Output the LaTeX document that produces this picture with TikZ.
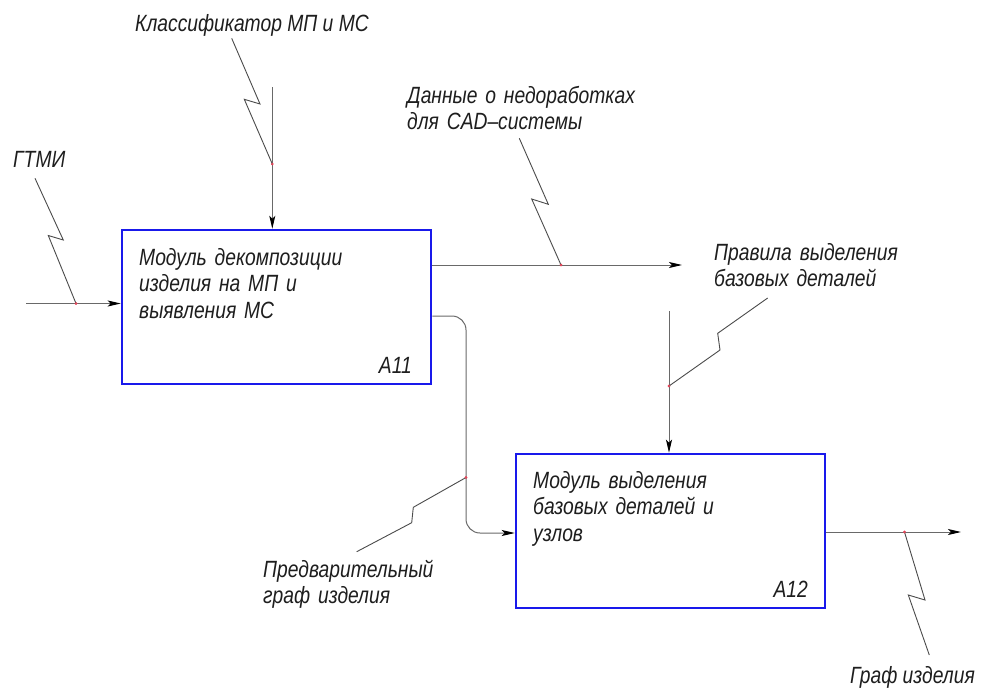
\documentclass[tikz,border=0pt]{standalone}
\usepackage{fontspec}
\setmainfont{Liberation Sans}[FakeStretch=0.82]
\usetikzlibrary{arrows.meta}
\definecolor{boxblue}{RGB}{25,25,235}
\definecolor{wire}{RGB}{105,105,105}
\definecolor{tick}{RGB}{75,75,75}
\definecolor{junction}{RGB}{225,70,90}
\definecolor{ink}{RGB}{30,30,30}
\begin{document}
\begin{tikzpicture}[x=1pt,y=-1pt,
  procbox/.style={draw=boxblue,line width=2.5pt,minimum width=309pt,minimum height=154pt,inner sep=0pt},
  lbl/.style={font=\itshape\fontsize{23.5}{26.5}\selectfont,text=ink,inner sep=0pt,anchor=base west,align=left},
  num/.style={font=\itshape\fontsize{23.5}{26.5}\selectfont,text=ink,inner sep=0pt,anchor=base east},
  flow/.style={draw=wire,line width=1pt,-{Stealth[length=13pt,width=6pt,inset=3pt,color=black]}},
  bolt/.style={draw=tick,line width=0.9pt,line join=miter},
  dot/.style={circle,fill=junction,inner sep=0pt,minimum size=2.6pt},
]
% page frame
\useasboundingbox[fill=white] (0,0) rectangle (983,691);

% function blocks
\node[procbox] (a11) at (276.5,307) {};
\node[procbox] (a12) at (670.5,531) {};
\node[lbl,text width=260pt] (a11txt) at (139,265) {Модуль декомпозиции\\изделия на МП и\\выявления МС};
\node[num] (a11num) at (412,373) {A11};
\node[lbl,text width=260pt] (a12txt) at (533,488) {Модуль выделения\\базовых деталей и\\узлов};
\node[num] (a12num) at (808,597) {A12};

% arrow labels
\node[lbl] (gtmi) at (13,167) {ГТМИ};
\node[lbl] (klass) at (135,31) {Классификатор МП и МС};
\node[lbl,text width=260pt] (data) at (407,103) {Данные о недоработках\\для CAD–системы};
\node[lbl,text width=220pt] (rules) at (714,260) {Правила выделения\\базовых деталей};
\node[lbl,text width=220pt] (pregraph) at (263,577) {Предварительный\\граф изделия};
\node[lbl] (graph) at (850,683) {Граф изделия};

% arrow ends
\coordinate (gtmi-src) at (26,303.5);
\coordinate (klass-src) at (272.3,87);
\coordinate (data-end) at (682,265);
\coordinate (fb-top) at (466,316);
\coordinate (fb-bottom) at (466,533);
\coordinate (rules-src) at (669,311);
\coordinate (graph-end) at (961,532);

% arrows
\draw[flow] (gtmi-src) -- (gtmi-src -| a11.west);
\draw[flow] (klass-src) -- (klass-src |- a11.north);
\draw[flow] (a11.east |- data-end) -- (data-end);
\draw[flow,rounded corners=14pt] (a11.east |- fb-top) -- (fb-top) -- (fb-bottom) -- (fb-bottom -| a12.west);
\draw[flow] (rules-src) -- (rules-src |- a12.north);
\draw[flow] (a12.east |- graph-end) -- (graph-end);

% label tags (bolts) ending on the arrows
\coordinate (gtmi-tag) at (35,178.3);
\coordinate (klass-tag) at (231.7,38.3);
\coordinate (data-tag) at (519.3,138.3);
\coordinate (rules-tag) at (767.7,298);
\coordinate (pregraph-tag) at (356.7,551.7);
\coordinate (graph-tag) at (929.3,655);

\node[dot] (j1) at (76,303.5) {};
\node[dot] (j2) at (272.3,164) {};
\node[dot] (j3) at (561,265) {};
\node[dot] (j4) at (669,386) {};
\node[dot] (j5) at (466,477.5) {};
\node[dot] (j6) at (904.5,532) {};

\draw[bolt] (gtmi-tag) -- (63.3,240) -- (48.3,235.5) -- (j1.center);
\draw[bolt] (klass-tag) -- (260,104) -- (244.3,99.3) -- (j2.center);
\draw[bolt] (data-tag) -- (548.3,204.3) -- (531.7,199) -- (j3.center);
\draw[bolt] (rules-tag) -- (717.7,333.3) -- (720,350) -- (j4.center);
\draw[bolt] (j5.center) -- (413.3,507.3) -- (411.7,522.7) -- (pregraph-tag);
\draw[bolt] (j6.center) -- (925,600) -- (908.3,595) -- (graph-tag);

% junction marks on top
\foreach \j in {j1,j2,j3,j4,j5,j6} \fill[junction] (\j) circle (1.3pt);
\end{tikzpicture}
\end{document}
